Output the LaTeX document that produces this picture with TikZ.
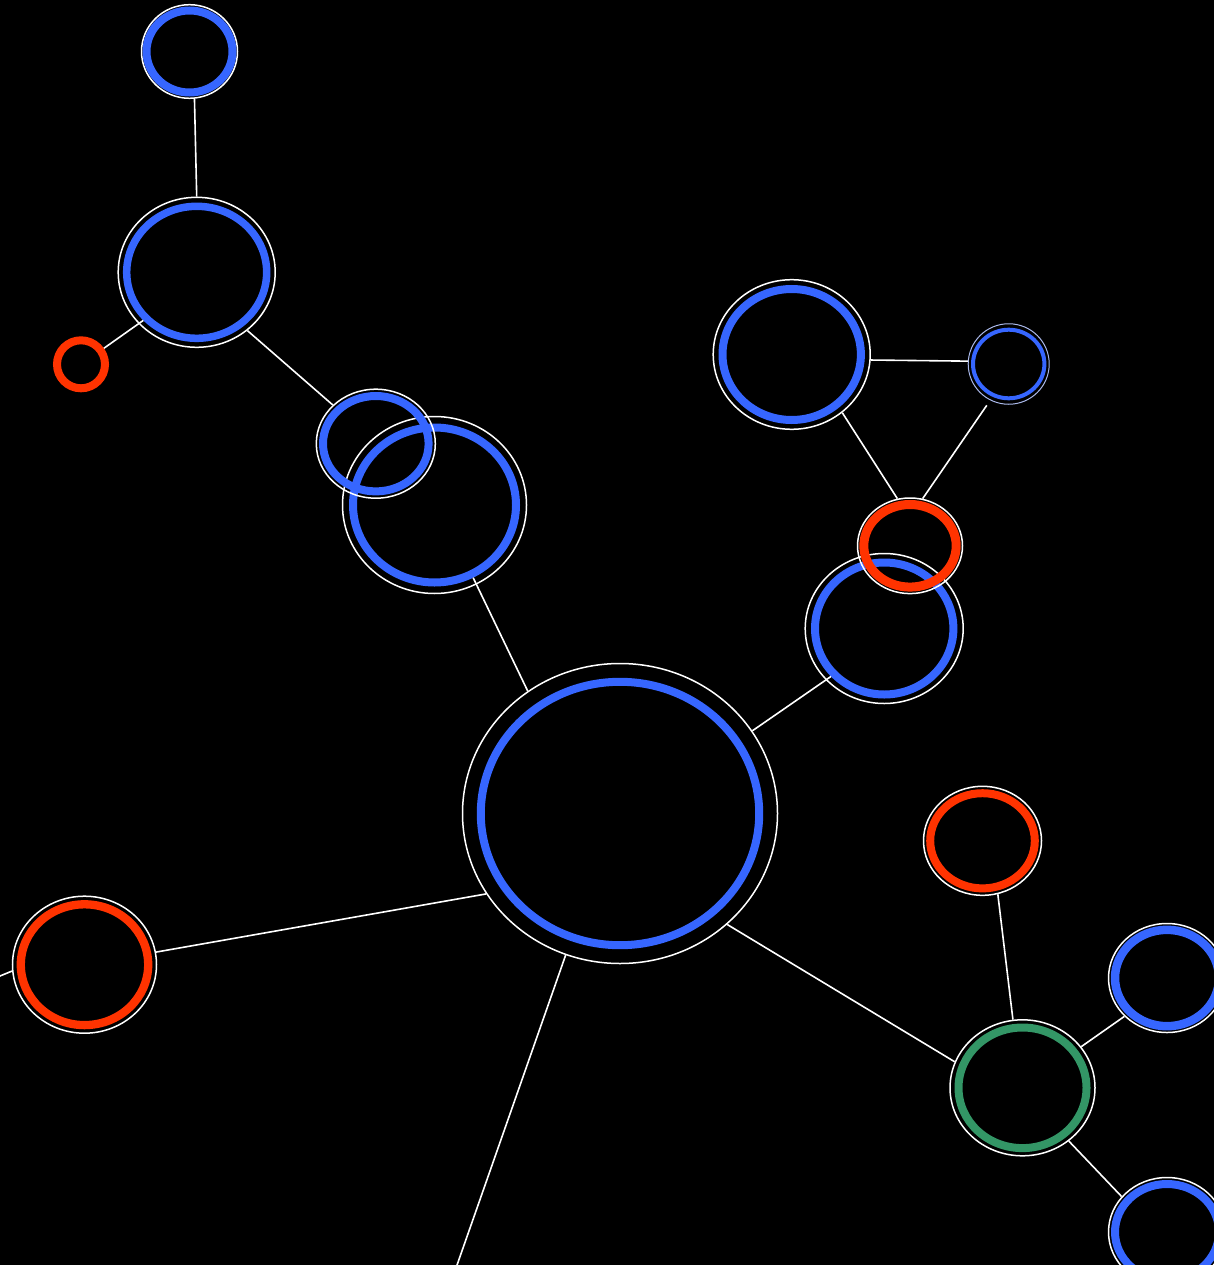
\documentclass[tikz,border=0pt]{standalone}
\usepackage{xcolor}
\usepackage{tikz}
\usetikzlibrary{shapes.geometric}

\definecolor{nodeblue}{RGB}{54,102,255}
\definecolor{nodered}{RGB}{255,51,0}
\definecolor{nodegreen}{RGB}{51,150,102}
\definecolor{rimgray}{RGB}{170,185,235}

\begin{document}
\begin{tikzpicture}[x=1pt,y=-1pt,
  halo/.style={ellipse,draw=white,line width=1.5pt,inner sep=0pt},
  ring/.style={ellipse,inner sep=0pt},
  link/.style={draw=white,line width=1.6pt}]
  \useasboundingbox (0,0) rectangle (1214,1265);
  \fill[black] (0,0) rectangle (1214,1265);
  \clip (0,0) rectangle (1214,1265);
  % nodes: name/x/y/halo rx/halo ry/ring rx/ring ry/ring width/colour
  \foreach \n/\x/\y/\a/\b/\c/\d/\w/\col in {
      top/189.5/51.5/48/46.8/43/41/8/nodeblue,
      upper/196.7/272.3/78.5/75/70/66/7.5/nodeblue,
      mid/434.5/505/92/88.5/81.5/77.5/8/nodeblue,
      small/375.8/443.7/59.5/54.5/52.8/47.7/8/nodeblue,
      tri/791.7/354.5/78.5/74.8/69.2/65.5/8/nodeblue,
      side/884.2/628.5/79/75/69.2/66/8/nodeblue,
      apex/910/545.8/52.5/47.8/46.2/41.3/9/nodered,
      hub/620/813.5/157.5/150/139.2/131.7/8/nodeblue,
      cap/982.5/840.8/59/54.5/52.3/47.6/8/nodered,
      west/84.5/964.7/72/68.5/63.7/60.4/8.3/nodered,
      fork/1022.5/1087.8/72.5/68/64/60.3/8/nodegreen,
      forka/1167/978/58.5/54.5/52/48.2/8.5/nodeblue,
      forkb/1167/1232/58.5/54.5/52/48/8/nodeblue}
  {
    \node[halo,minimum width=2*\a,minimum height=2*\b] (\n) at (\x,\y) {};
    \node[ring,draw=\col,line width=\w pt,minimum width=2*\c,minimum height=2*\d] (\n-in) at (\x,\y) {};
  }
  % the two odd ones: bare ring, thin ring
  \node[ring,draw=nodered,line width=8pt,minimum width=48,minimum height=48] (leaf) at (81,364.3) {};
  \node[halo,draw=rimgray,line width=1pt,minimum width=81,minimum height=80.5] (dot) at (1008.7,364) {};
  \node[ring,draw=nodeblue,line width=4pt,minimum width=71.4,minimum height=68.6] (dot-in) at (1008.7,364) {};
  % ends that run off the page
  \coordinate (south) at (422,1365);
  \coordinate (westend) at (-100,1017);
  % links
  \draw[link] (top.-84) -- (upper.90);
  \draw[link] (upper-in.222.7) -- (leaf.35.5);
  \draw[link] (upper.-49.7) -- (small.138.6);
  \draw[link] (mid-in.-62.6) -- (hub.127);
  \draw[link] (tri.-4.7) -- (dot.176.2);
  \draw[link] (tri.-49.9) -- (apex.105.5);
  \draw[link,shorten <=6pt] (dot.-117.5) -- (apex.75.3);
  \draw[link] (side-in.222.4) -- (hub.32);
  \draw[link] (hub.211.6) -- (west.10.9);
  \draw[link] (hub.-111.2) -- (south);
  \draw[link] (hub.-46.1) -- (fork.159.8);
  \draw[link] (cap.-74.8) -- (fork.98.4);
  \draw[link] (fork.35) -- (forka.222.1);
  \draw[link] (fork.-49.6) -- (forkb.142.7);
  \draw[link] (west.185.75) -- (westend);
\end{tikzpicture}
\end{document}
